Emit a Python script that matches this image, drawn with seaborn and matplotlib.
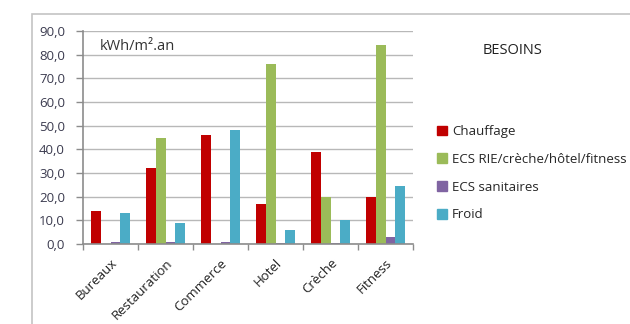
import matplotlib
matplotlib.use("Agg")
import matplotlib.pyplot as plt
from matplotlib.patches import Rectangle
import seaborn as sns
import pandas as pd

categories = ["Bureaux", "Restauration", "Commerce", "Hotel", "Crèche", "Fitness"]
series = ["Chauffage", "ECS RIE/crèche/hôtel/fitness", "ECS sanitaires", "Froid"]
chauffage = [14, 32, 46, 17, 39, 20]
ecs_rie = [0, 45, 0, 76, 20, 84]
ecs_sanitaires = [1, 1, 1, 0.5, 0.5, 3]
froid = [13, 9, 48, 6, 10, 24.5]
yticks = [0, 10, 20, 30, 40, 50, 60, 70, 80, 90]
colors = ["#C00000", "#9BBB59", "#8064A2", "#4BACC6"]

rows = []
for name, vals in zip(series, [chauffage, ecs_rie, ecs_sanitaires, froid]):
    for cat, v in zip(categories, vals):
        rows.append({"Type": cat, "Besoin": name, "Valeur": v})
df = pd.DataFrame(rows)

sns.set_theme(style="white")
plt.rcParams["font.family"] = ["Open Sans", "DejaVu Sans"]

W, H = 630, 324
fig = plt.figure(figsize=(W / 100, H / 100), dpi=100)
ax = fig.add_axes([83 / W, 1 - 244 / H, (413 - 83) / W, (244 - 31) / H])

sns.barplot(data=df, x="Type", y="Valeur", hue="Besoin", order=categories,
            hue_order=series, palette=colors, width=0.727, gap=0,
            saturation=1, ax=ax, legend=False, edgecolor="none")

ax.set_xlim(-0.5, len(categories) - 0.5)
ax.set_ylim(0, 90)
ax.set_yticks(yticks)
ax.set_yticklabels([f"{t:.1f}".replace(".", ",") for t in yticks],
                   fontsize=9.5, color="#3b3b4f")
ax.yaxis.grid(True, color="#b8b8b8", linewidth=1)
ax.set_axisbelow(True)
ax.set_xlabel("")
ax.set_ylabel("")

# category ticks at boundaries, labels at centres
ax.set_xticks([i - 0.5 for i in range(len(categories) + 1)], minor=False)
ax.set_xticklabels([])
ax.set_xticks(range(len(categories)), minor=True)
ax.set_xticklabels(categories, minor=True, rotation=45, ha="right",
                   rotation_mode="anchor", fontsize=9.5, color="#222222")
ax.tick_params(axis="x", which="major", length=4, color="#8c8c8c", width=1, bottom=True)
ax.tick_params(axis="x", which="minor", length=0, pad=9)
ax.tick_params(axis="y", length=5, color="#8c8c8c", width=1, left=True, pad=8)

for side in ["top", "right"]:
    ax.spines[side].set_visible(False)
for side in ["left", "bottom"]:
    ax.spines[side].set_color("#8c8c8c")
    ax.spines[side].set_linewidth(1.2)

ax.text(0.05, 0.925, "kWh/m².an", transform=ax.transAxes, fontsize=10.5,
        color="#333333", va="center", ha="left")

# chart area frame
fig.patches.append(Rectangle((32 / W, -0.1), 1.2, 1 - 14 / H + 0.1,
                             transform=fig.transFigure, fill=False,
                             edgecolor="#c4c4c4", linewidth=1.2))

fig.text(512 / W, 1 - 50 / H, "BESOINS", fontsize=10.5, color="#222222",
         ha="center", va="center")

handles = [Rectangle((0, 0), 1, 1, color=c) for c in colors]
fig.legend(handles, series, loc="upper left", bbox_to_anchor=(437 / W, 1 - 125 / H),
           frameon=False, fontsize=9.5, handlelength=0.75, handleheight=0.75,
           handletextpad=0.4, labelspacing=1.12, borderaxespad=0, borderpad=0)

fig.savefig("out.png", dpi=100)
